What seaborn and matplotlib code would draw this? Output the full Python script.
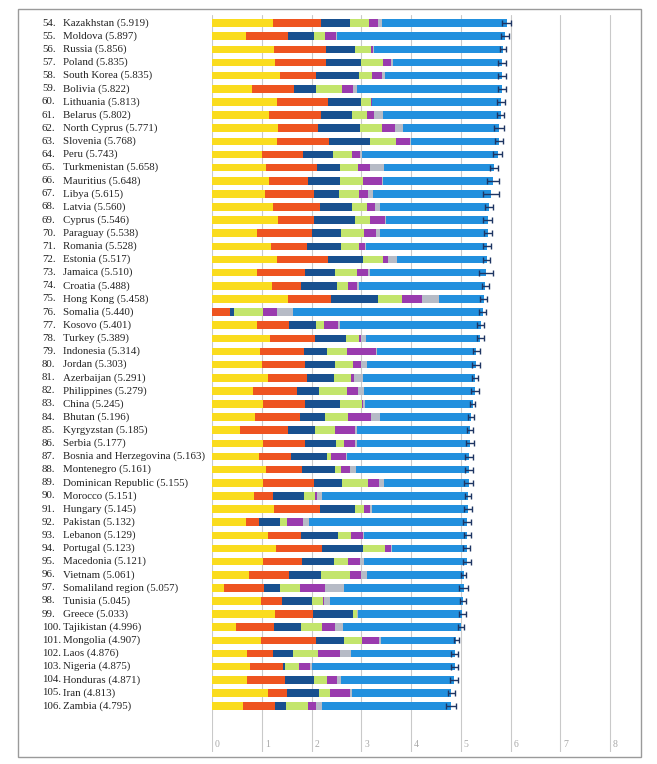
import matplotlib
matplotlib.use("Agg")
import matplotlib.pyplot as plt
import matplotlib.transforms as mtransforms
from matplotlib.patches import Rectangle
import numpy as np
import pandas as pd
import seaborn as sns

ranks = list(range(54, 107))
countries = [
    "Kazakhstan", "Moldova", "Russia", "Poland", "South Korea", "Bolivia", "Lithuania",
    "Belarus", "North Cyprus", "Slovenia", "Peru", "Turkmenistan", "Mauritius", "Libya",
    "Latvia", "Cyprus", "Paraguay", "Romania", "Estonia", "Jamaica", "Croatia",
    "Hong Kong", "Somalia", "Kosovo", "Turkey", "Indonesia", "Jordan", "Azerbaijan",
    "Philippines", "China", "Bhutan", "Kyrgyzstan", "Serbia", "Bosnia and Herzegovina",
    "Montenegro", "Dominican Republic", "Morocco", "Hungary", "Pakistan", "Lebanon",
    "Portugal", "Macedonia", "Vietnam", "Somaliland region", "Tunisia", "Greece",
    "Tajikistan", "Mongolia", "Laos", "Nigeria", "Honduras", "Iran", "Zambia",
]
scores = [
    5.919, 5.897, 5.856, 5.835, 5.835, 5.822, 5.813, 5.802, 5.771, 5.768, 5.743, 5.658,
    5.648, 5.615, 5.560, 5.546, 5.538, 5.528, 5.517, 5.510, 5.488, 5.458, 5.440, 5.401,
    5.389, 5.314, 5.303, 5.291, 5.279, 5.245, 5.196, 5.185, 5.177, 5.163, 5.161, 5.155,
    5.151, 5.145, 5.132, 5.129, 5.123, 5.121, 5.061, 5.057, 5.045, 5.033, 4.996, 4.907,
    4.876, 4.875, 4.871, 4.813, 4.795,
]
gdp = [
    1.23, 0.68, 1.24, 1.27, 1.37, 0.81, 1.30, 1.15, 1.32, 1.31, 1.01, 1.09, 1.15, 1.07,
    1.23, 1.33, 0.91, 1.19, 1.30, 0.91, 1.20, 1.52, 0.00, 0.91, 1.17, 0.97, 1.01, 1.13,
    0.83, 1.03, 0.87, 0.57, 1.03, 0.95, 1.09, 1.03, 0.85, 1.25, 0.68, 1.13, 1.28, 1.03,
    0.75, 0.25, 0.99, 1.27, 0.49, 0.99, 0.70, 0.76, 0.71, 1.13, 0.62,
]
social = [
    0.96, 0.85, 1.05, 1.03, 0.72, 0.83, 1.04, 1.05, 0.81, 1.05, 0.81, 1.03, 0.77, 0.97,
    0.95, 0.71, 1.10, 0.71, 1.04, 0.95, 0.59, 0.87, 0.36, 0.64, 0.89, 0.87, 0.85, 0.78,
    0.87, 0.83, 0.89, 0.96, 0.83, 0.64, 0.72, 1.01, 0.38, 0.93, 0.27, 0.65, 0.94, 0.78,
    0.79, 0.79, 0.42, 0.75, 0.76, 1.11, 0.53, 0.66, 0.76, 0.38, 0.65,
]
health = [
    0.58, 0.52, 0.59, 0.69, 0.87, 0.45, 0.65, 0.62, 0.85, 0.81, 0.61, 0.46, 0.66, 0.52,
    0.64, 0.83, 0.58, 0.70, 0.70, 0.62, 0.72, 0.95, 0.09, 0.55, 0.63, 0.48, 0.62, 0.54,
    0.46, 0.72, 0.52, 0.55, 0.64, 0.72, 0.66, 0.58, 0.61, 0.70, 0.41, 0.76, 0.81, 0.65,
    0.65, 0.32, 0.60, 0.81, 0.53, 0.56, 0.40, 0.05, 0.57, 0.64, 0.21,
]
freedom = [
    0.39, 0.23, 0.32, 0.45, 0.26, 0.52, 0.21, 0.30, 0.44, 0.52, 0.39, 0.35, 0.45, 0.40,
    0.30, 0.30, 0.46, 0.35, 0.39, 0.44, 0.23, 0.48, 0.58, 0.15, 0.26, 0.40, 0.36, 0.35,
    0.56, 0.43, 0.46, 0.40, 0.16, 0.09, 0.13, 0.51, 0.23, 0.17, 0.14, 0.26, 0.44, 0.28,
    0.58, 0.40, 0.22, 0.08, 0.44, 0.36, 0.51, 0.28, 0.27, 0.22, 0.44,
]
generosity = [
    0.17, 0.21, 0.03, 0.16, 0.20, 0.22, 0.01, 0.14, 0.26, 0.29, 0.15, 0.24, 0.38, 0.18,
    0.16, 0.30, 0.24, 0.13, 0.10, 0.22, 0.18, 0.41, 0.27, 0.28, 0.04, 0.58, 0.16, 0.05,
    0.21, 0.03, 0.46, 0.39, 0.21, 0.30, 0.18, 0.22, 0.05, 0.12, 0.32, 0.23, 0.13, 0.24,
    0.23, 0.51, 0.03, 0.01, 0.26, 0.34, 0.44, 0.22, 0.21, 0.40, 0.17,
]
corruption = [
    0.09, 0.02, 0.02, 0.04, 0.05, 0.08, 0.01, 0.17, 0.16, 0.01, 0.05, 0.28, 0.03, 0.09,
    0.09, 0.03, 0.08, 0.01, 0.18, 0.03, 0.04, 0.33, 0.32, 0.05, 0.11, 0.01, 0.12, 0.19,
    0.12, 0.03, 0.17, 0.04, 0.04, 0.01, 0.12, 0.11, 0.09, 0.05, 0.12, 0.03, 0.01, 0.07,
    0.11, 0.39, 0.11, 0.01, 0.15, 0.03, 0.21, 0.03, 0.07, 0.05, 0.12,
]
ci_half = [
    0.09, 0.08, 0.06, 0.08, 0.08, 0.08, 0.08, 0.07, 0.10, 0.08, 0.09, 0.08, 0.12, 0.16,
    0.08, 0.09, 0.08, 0.08, 0.07, 0.14, 0.07, 0.07, 0.07, 0.07, 0.07, 0.07, 0.08, 0.06,
    0.08, 0.05, 0.06, 0.07, 0.08, 0.08, 0.08, 0.09, 0.06, 0.08, 0.08, 0.07, 0.07, 0.08,
    0.05, 0.09, 0.06, 0.07, 0.06, 0.05, 0.07, 0.07, 0.08, 0.07, 0.10,
]

components = [gdp, social, health, freedom, generosity, corruption]
colors = ["#FADC1E", "#EE5420", "#18508F", "#C3E56C", "#9A3BAE", "#B6BBC6"]
dystopia_color = "#2290DE"

df = pd.DataFrame({"country": countries, "score": scores})
cum = np.cumsum(np.array(components), axis=0)

sns.set_style("white")
plt.rcParams["font.family"] = ["Liberation Serif", "DejaVu Serif"]

fig = plt.figure(figsize=(6.57, 7.64), dpi=100)
ax = fig.add_axes([212 / 657, 12 / 764, (625 - 212) / 657, (749 - 12) / 764])

# stacked bars: draw the cumulative totals from the back to the front
sns.barplot(data=df, x="score", y="country", color=dystopia_color, saturation=1,
            width=0.58, linewidth=0, ax=ax, orient="h", zorder=2)
for level in range(len(components) - 1, -1, -1):
    sns.barplot(x=cum[level], y=countries, color=colors[level], saturation=1,
                width=0.58, linewidth=0, ax=ax, orient="h", zorder=2)

pos = np.arange(len(countries))
ax.errorbar(scores, pos, xerr=ci_half, fmt="none", ecolor="#1E3563",
            elinewidth=1.0, capsize=2, capthick=1.0, zorder=3)

ax.set_xlim(0, 8.3)
ax.set_ylim(len(countries) - 0.5 + 3.0, -0.62)
ax.set_xticks(range(0, 9))
ax.xaxis.grid(True, color="#C9C9C9", linewidth=0.8, zorder=0)
ax.set_axisbelow(True)
ax.tick_params(axis="both", length=0, labelbottom=False, labelleft=False)
ax.set_xlabel("")
ax.set_ylabel("")
for s in ax.spines.values():
    s.set_visible(False)

# x tick labels sit just right of each gridline, inside the plot
for v in range(0, 9):
    ax.text(v + 0.06, 0.004, str(v), transform=ax.get_xaxis_transform(),
            fontsize=7, color="#A8A8A8", ha="left", va="bottom")

# row labels
trans = mtransforms.blended_transform_factory(fig.transFigure, ax.transData)
for i, (r, c, s) in enumerate(zip(ranks, countries, scores)):
    ax.text(42 / 657, i, f"{r}.", transform=trans, fontsize=7.8, color="#222222",
            ha="left", va="center")
    ax.text(63 / 657, i, f"{c} ({s:.3f})", transform=trans, fontsize=7.8,
            color="#222222", ha="left", va="center")

fig.patches.append(Rectangle((18 / 657, 7 / 764), (641 - 18) / 657, (756 - 8) / 764,
                             transform=fig.transFigure, fill=False,
                             edgecolor="#9A9A9A", linewidth=1.0))

fig.savefig("out.png", dpi=100)
